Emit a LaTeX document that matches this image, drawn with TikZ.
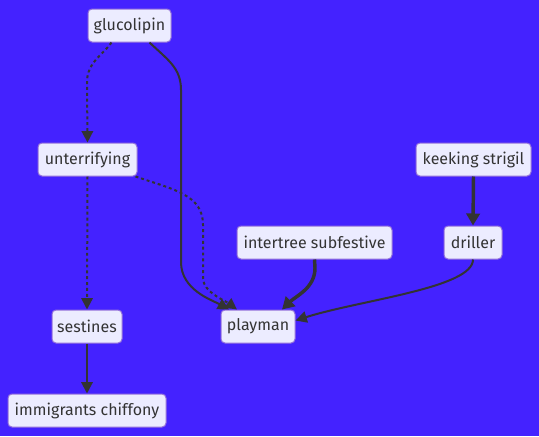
\documentclass[tikz,border=0pt]{standalone}
\usepackage{fontspec}
\setmainfont{Fira Sans}
\usetikzlibrary{arrows.meta,calc}
\definecolor{bgblue}{RGB}{68,34,255}
\definecolor{boxfill}{RGB}{236,236,255}
\definecolor{boxline}{RGB}{147,112,219}
\definecolor{edgegray}{RGB}{51,51,51}

\begin{document}
\begin{tikzpicture}[x=0.75pt,y=-0.75pt,
    item/.style={draw=boxline, fill=boxfill, rounded corners=3pt, minimum height=24.75pt, inner sep=0pt, line width=0.75pt, text=edgegray, font=\fontsize{12}{14}\selectfont},
    arr/.style={-{Triangle[length=8.5pt,width=8.5pt]}, line width=1.5pt, draw=edgegray},
    thickarr/.style={-{Triangle[length=9pt,width=10pt]}, line width=2.6pt, draw=edgegray},
    dotline/.style={dash pattern=on 2.2pt off 2.2pt}
]
\fill[bgblue] (0,0) rectangle (539,436);
\useasboundingbox (0,0) rectangle (539,436);

\node[item, minimum width=62.25pt] (gluc) at (129.5,25.5) {glucolipin};
\node[item, minimum width=74.25pt] (unter) at (87.5,159.5) {unterrifying};
\node[item, minimum width=86.25pt] (keek) at (473.5,159.5) {keeking strigil};
\node[item, minimum width=116.25pt] (inter) at (314.5,242.5) {intertree subfestive};
\node[item, minimum width=43.5pt] (drill) at (473,242.5) {driller};
\node[item, minimum width=52.5pt] (sest) at (87,326.5) {sestines};
\node[item, minimum width=55.5pt] (play) at (258,326.5) {playman};
\node[item, minimum width=118.5pt] (immi) at (87,410.5) {immigrants chiffony};

\draw[arr, dotline] ($(gluc.south)+(-18,0)$) .. controls (104,54) and (87,62) .. (87,82) -- (unter.north);
\draw[arr] ($(gluc.south)+(20,0)$) .. controls (168,60) and (181,68) .. (181,90) -- (181,262) .. controls (181,290) and (212,300) .. ($(play.north)+(-29,0)$);
\draw[arr, dotline] ($(unter.south)+(48,0)$) .. controls (175,190) and (203,195) .. (203,225) -- (203,278) .. controls (203,292) and (224,300) .. ($(play.north)+(-21,0)$);
\draw[arr, dotline] (unter.south) -- (sest.north);
\draw[thickarr] (inter.south) -- (315,268) .. controls (315,288) and (296,296) .. ($(play.north)+(24,0)$);
\draw[thickarr] (keek.south) -- (drill.north);
\draw[arr] (drill.south) .. controls (473,288) and (360,300) .. ($(play.east)+(0,-6)$);
\draw[arr] (sest.south) -- (immi.north);
\end{tikzpicture}
\end{document}
